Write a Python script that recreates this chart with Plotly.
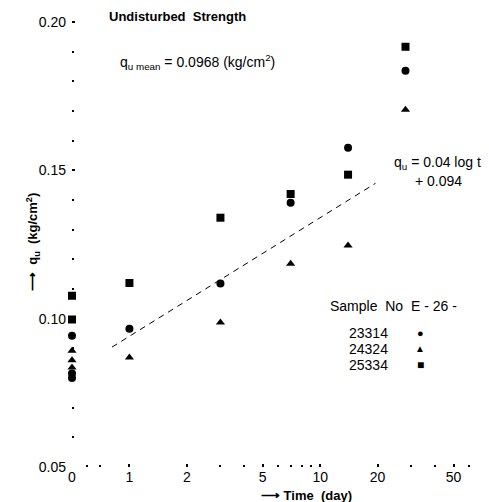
import plotly.graph_objects as go
import math

# Time in days; t = 0 (undisturbed) is plotted at the "0" position of the log axis (0.5)

# Sample E-26-23314 (circles)
s23314_t = [0.5, 0.5, 0.5, 1, 3, 7, 14, 28]
s23314_q = [0.0942, 0.0815, 0.0800, 0.0966, 0.1118, 0.1390, 0.1576, 0.1835]

# Sample E-26-24324 (triangles)
s24324_t = [0.5, 0.5, 0.5, 1, 3, 7, 14, 28]
s24324_q = [0.0892, 0.0860, 0.0835, 0.0869, 0.0987, 0.1185, 0.1246, 0.1704]

# Sample E-26-25334 (squares)
s25334_t = [0.5, 0.5, 1, 3, 7, 14, 28]
s25334_q = [0.1077, 0.0997, 0.1120, 0.1340, 0.1420, 0.1485, 0.1916]

# fitted line q = 0.04 log t + 0.094 (drawn end points)
fit_t = [0.81, 19.5]
fit_q = [0.0904, 0.1456]

x_tickvals = [0.5, 1, 2, 5, 10, 20, 50]
x_ticktext = ["0", "1", "2", "5", "10", "20", "50"]
x_minor = [0.6, 0.7, 3, 4, 6, 7, 8, 9, 30, 40, 60]
y_tickvals = [0.05, 0.10, 0.15, 0.20]
y_ticktext = ["0.05", "0.10", "0.15", "0.20"]
y_minor = [0.06, 0.07, 0.08, 0.09, 0.11, 0.12, 0.13, 0.14, 0.16, 0.17, 0.18, 0.19]

FONT = "Liberation Sans"

fig = go.Figure()
fig.add_trace(go.Scatter(x=fit_t, y=fit_q, mode="lines",
                         line=dict(color="black", width=1, dash="6px,5px"),
                         showlegend=False, hoverinfo="skip"))
fig.add_trace(go.Scatter(x=s23314_t, y=s23314_q, mode="markers", name="23314",
                         marker=dict(symbol="circle", size=8, color="black"),
                         cliponaxis=False))
fig.add_trace(go.Scatter(x=s24324_t, y=s24324_q, mode="markers", name="24324",
                         marker=dict(symbol="triangle-up", size=8, color="black"),
                         cliponaxis=False))
fig.add_trace(go.Scatter(x=s25334_t, y=s25334_q, mode="markers", name="25334",
                         marker=dict(symbol="square", size=8, color="black"),
                         cliponaxis=False))

fig.update_layout(
    width=489, height=502,
    margin=dict(l=72, r=3, t=7, b=35),
    paper_bgcolor="white", plot_bgcolor="white",
    showlegend=False,
    font=dict(family=FONT, size=13, color="black"),
    xaxis=dict(type="log", range=[math.log10(0.5), math.log10(74)],
               tickmode="array", tickvals=x_tickvals, ticktext=x_ticktext,
               ticks="inside", ticklen=3, tickwidth=2, tickcolor="black",
               minor=dict(tickmode="array", tickvals=x_minor, ticks="inside",
                          ticklen=2, tickwidth=2, tickcolor="black"),
               showgrid=False, zeroline=False, showline=False,
               ticklabelstandoff=0,
               tickfont=dict(size=14, family=FONT)),
    yaxis=dict(range=[0.05, 0.205],
               tickmode="array", tickvals=y_tickvals, ticktext=y_ticktext,
               ticks="inside", ticklen=3, tickwidth=2, tickcolor="black",
               minor=dict(tickmode="array", tickvals=y_minor, ticks="inside",
                          ticklen=2, tickwidth=2, tickcolor="black"),
               showgrid=False, zeroline=False, showline=False,
               ticklabelstandoff=5,
               tickfont=dict(size=14, family=FONT)),
)

ann = [
    dict(x=107, y=17, text="<b>Undisturbed  Strength</b>", xanchor="left", size=13),
    dict(x=118, y=62, text="q<sub>u mean</sub> = 0.0968 (kg/cm<sup>2</sup>)", xanchor="left", size=14),
    dict(x=392, y=163, text="q<sub>u</sub> = 0.04 log t", xanchor="left", size=14),
    dict(x=413, y=181, text="+ 0.094", xanchor="left", size=14),
    dict(x=328, y=306, text="Sample  No  E - 26 -", xanchor="left", size=14),
    dict(x=347, y=333, text="23314", xanchor="left", size=14),
    dict(x=347, y=349, text="24324", xanchor="left", size=14),
    dict(x=347, y=365, text="25334", xanchor="left", size=14),
    dict(x=420, y=333, text="●", xanchor="center", size=11),
    dict(x=420, y=348, text="▲", xanchor="center", size=10),
    dict(x=420, y=365, text="■", xanchor="center", size=12),
    dict(x=306, y=495, text="<b>⟶ Time  (day)</b>", xanchor="center", size=13),
]
pw, ph = 489 - 72 - 3, 502 - 7 - 35
for a in ann:
    fig.add_annotation(x=(a["x"] - 72) / pw, y=1 - (a["y"] - 7) / ph,
                       xref="paper", yref="paper",
                       text=a["text"], showarrow=False, xanchor=a["xanchor"],
                       yanchor="middle", font=dict(size=a["size"], family=FONT, color="black"))

fig.add_annotation(x=(22 - 72) / pw, y=1 - (242 - 7) / ph, xref="paper", yref="paper",
                   text="<b>⟶  q<sub>u</sub>  (kg/cm<sup>2</sup>)</b>", textangle=-90,
                   showarrow=False, font=dict(size=13, family=FONT, color="black"))

fig.write_html("out.html")
